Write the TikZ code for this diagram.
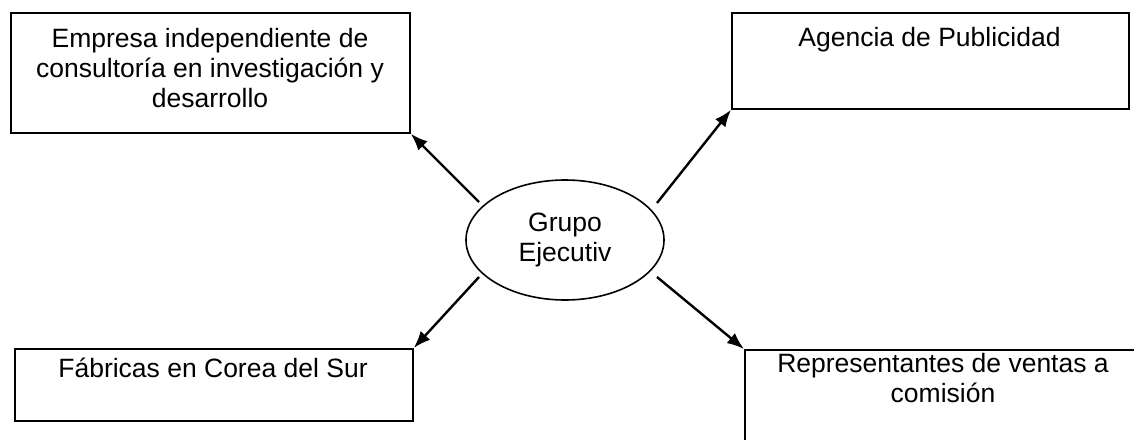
\documentclass[tikz,border=0pt]{standalone}
\usepackage{fontspec}
\setmainfont{Liberation Sans}
\usetikzlibrary{shapes.geometric,arrows.meta}
\begin{document}
\begin{tikzpicture}[x=1pt,y=-1pt,
  box/.style={draw,line width=1.8pt,rectangle,inner sep=0pt,anchor=north west},
  label/.style={inner sep=0pt,align=center,font=\fontsize{26.5}{30}\selectfont},
  hub/.style={draw,line width=1.6pt,ellipse,inner sep=0pt,minimum width=198pt,minimum height=120pt,align=center,font=\fontsize{26.5}{30}\selectfont},
  link/.style={line width=2.4pt,-{Latex[length=17pt,width=13pt]}}]
\useasboundingbox (0,0) rectangle (1134,439);
\fill[white] (0,0) rectangle (1134,439);

% boxes
\node[box,minimum width=399pt,minimum height=120pt] (tl) at (10,12) {};
\node[box,minimum width=397pt,minimum height=96pt] (tr) at (731,12) {};
\node[box,minimum width=398pt,minimum height=72pt] (bl) at (14,348) {};
\begin{scope}
  \clip (0,0) rectangle (1134,439);
  \node[box,minimum width=400pt,minimum height=120pt] (br) at (744,349) {};
\end{scope}

% box texts
\node[label,anchor=north] (tltext) at (210,27.7) {Empresa independiente de\\consultoría en investigación y\\desarrollo};
\node[label,anchor=base] (trtext) at (929.5,46) {Agencia de Publicidad};
\node[label,anchor=base] (bltext) at (213,377) {Fábricas en Corea del Sur};
\node[label,anchor=north] (brtext) at (943,353) {Representantes de ventas a\\comisión};

% central node
\node[hub] (g) at (565,240) {Grupo\\Ejecutiv};

% arrow start points just outside the ellipse
\coordinate (s1) at (479,202);
\coordinate (s2) at (657,203);
\coordinate (s3) at (479,277);
\coordinate (s4) at (657,277);

\draw[link] (s1) -- (tl.south east);
\draw[link] (s2) -- (tr.south west);
\draw[link] (s3) -- (bl.north east);
\draw[link] (s4) -- (br.north west);
\end{tikzpicture}
\end{document}
